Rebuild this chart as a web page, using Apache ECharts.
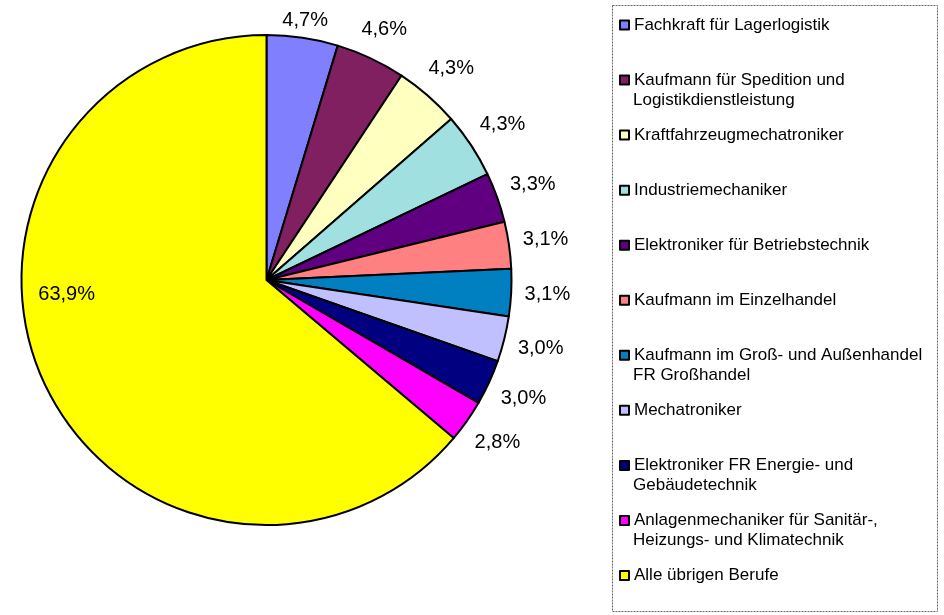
<!DOCTYPE html>
<html><head><meta charset="utf-8">
<script src="https://cdn.jsdelivr.net/npm/echarts@6/dist/echarts.min.js"></script>
<style>html,body{margin:0;padding:0;background:#fff}#c{width:944px;height:615px}</style>
</head><body><div id="c"></div>
<script>
const categories = [
  'Fachkraft für Lagerlogistik',
  'Kaufmann für Spedition und\nLogistikdienstleistung',
  'Kraftfahrzeugmechatroniker',
  'Industriemechaniker',
  'Elektroniker für Betriebstechnik',
  'Kaufmann im Einzelhandel',
  'Kaufmann im Groß- und Außenhandel\nFR Großhandel',
  'Mechatroniker',
  'Elektroniker FR Energie- und\nGebäudetechnik',
  'Anlagenmechaniker für Sanitär-,\nHeizungs- und Klimatechnik',
  'Alle übrigen Berufe'
];
const values = [4.7, 4.6, 4.3, 4.3, 3.3, 3.1, 3.1, 3.0, 3.0, 2.8, 63.9];
const colors = ['#8080FF','#802060','#FFFFC0','#A0E0E0','#600080','#FF8080','#0080C0','#C0C0FF','#000080','#FF00FF','#FFFF00'];

const CX = 266.5, CY = 280, R = 245;
const LH = 20, FS = 17;
const FONT = 'Liberation Sans, Arial, sans-serif';
const LEG_LEFT = 619;

const chart = echarts.init(document.getElementById('c'), null, {renderer: 'canvas'});

const baseLegend = {
  orient: 'vertical', padding: 0, itemWidth: 9, itemHeight: 9,
  selectedMode: false, icon: 'rect',
  itemStyle: {borderColor: '#000', borderWidth: 2},
  textStyle: {fontFamily: FONT, fontSize: FS, color: '#000', lineHeight: LH}
};
const legends = [];
categories.forEach((name, i) => {
  const parts = name.split('\n');
  const c = 25 + 55.05 * i;
  legends.push(Object.assign({}, baseLegend, {
    data: [name], left: LEG_LEFT, top: c - LH / 2,
    formatter: n => n.split('\n')[0]
  }));
  if (parts.length > 1) {
    legends.push(Object.assign({}, baseLegend, {
      data: [{name: name, icon: 'none'}], left: LEG_LEFT, top: c + LH / 2,
      formatter: n => n.split('\n')[1]
    }));
  }
});

const data = categories.map((name, i) => {
  const d = {name: name, value: values[i], itemStyle: {color: colors[i]}};
  if (i === categories.length - 1) d.label = {position: 'inside'};
  return d;
});

chart.setOption({
  animation: false,
  backgroundColor: '#fff',
  color: colors,
  legend: legends,
  graphic: [{
    type: 'rect', shape: {x: 612.5, y: 5.5, width: 325, height: 606},
    style: {fill: 'none', stroke: '#666', lineWidth: 1, lineDash: [2, 1]}, z: -1
  }],
  series: [{
    type: 'pie',
    center: [CX, CY],
    radius: R,
    startAngle: 90,
    clockwise: true,
    avoidLabelOverlap: false,
    itemStyle: {borderColor: '#000', borderWidth: 2},
    label: {
      show: true,
      position: 'outside',
      fontFamily: FONT,
      fontSize: 20,
      lineHeight: 20,
      color: '#000',
      distanceToLabelLine: 0,
      formatter: p => p.value.toFixed(1).replace('.', ',') + '%'
    },
    labelLine: {show: false, length: 13, length2: 0},
    emphasis: {disabled: true},
    labelLayout: function (p) {
      const r = p.labelRect;
      if (p.dataIndex === categories.length - 1) return {dx: -86, dy: -38};
      const right = r.x + r.width / 2 > CX;
      const ax = right ? r.x : r.x + r.width;
      const ay = r.y + r.height / 2;
      let ux = ax - CX, uy = ay - CY;
      const base = Math.hypot(ux, uy);
      ux /= base; uy /= base;
      let d = base + Math.abs(ux) * r.width / 2 + Math.abs(uy) * r.height / 2;
      let y = CY + uy * d;
      const minY = 10 + r.height / 2;
      if (y < minY) { d = (CY - minY) / -uy; y = minY; }
      return {x: CX + ux * d, y: y, align: 'center', verticalAlign: 'middle'};
    },
    data: data
  }]
});
</script>
</body></html>
